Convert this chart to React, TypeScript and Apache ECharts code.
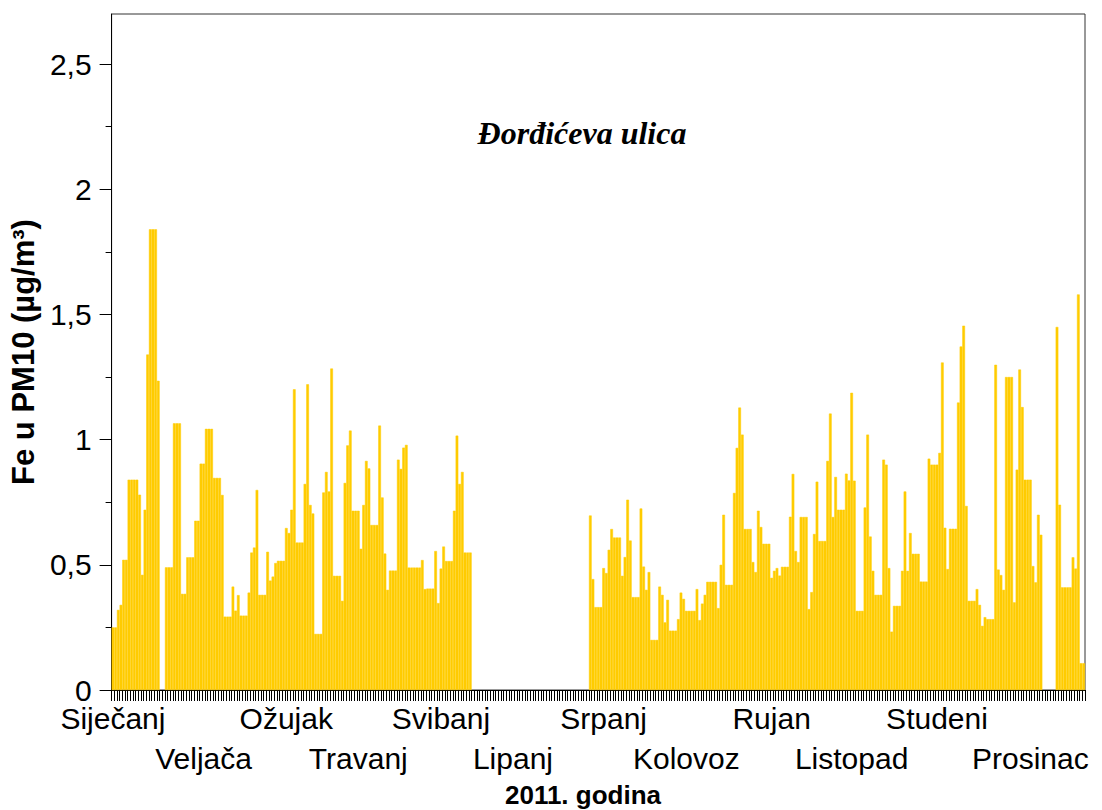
import React, { useEffect, useRef } from "react";
import * as echarts from "echarts";

const monthNames = ["Siječanj", "Veljača", "Ožujak", "Travanj", "Svibanj", "Lipanj", "Srpanj", "Kolovoz", "Rujan", "Listopad", "Studeni", "Prosinac"];
// day (0-based) under which each month name is printed
const monthLabelDay = [0, 34, 65, 92, 123, 150, 184, 215, 247, 277, 309, 344];

const jan = [0.25, 0.25, 0.32, 0.34, 0.52, 0.52, 0.84, 0.84, 0.84, 0.84, 0.78, 0.46, 0.72, 1.34, 1.84, 1.84, 1.84, 1.235, null, null, 0.49, 0.49, 0.49, 1.065, 1.065, 1.065, 0.384, 0.384, 0.53, 0.53, 0.53];
const feb = [0.676, 0.676, 0.904, 0.904, 1.043, 1.043, 1.043, 0.847, 0.847, 0.847, 0.779, 0.293, 0.293, 0.293, 0.413, 0.317, 0.379, 0.297, 0.297, 0.297, 0.389, 0.549, 0.569, 0.799, 0.38, 0.38, 0.38, 0.552];
const mar = [0.437, 0.453, 0.507, 0.516, 0.516, 0.516, 0.647, 0.627, 0.72, 1.201, 0.589, 0.589, 0.589, 0.823, 1.221, 0.739, 0.705, 0.224, 0.224, 0.224, 0.789, 0.871, 0.793, 1.284, 0.456, 0.456, 0.456, 0.356, 0.827, 0.977, 1.036];
const apr = [0.716, 0.716, 0.716, 0.564, 0.739, 0.915, 0.885, 0.659, 0.659, 0.659, 1.056, 0.769, 0.545, 0.4, 0.477, 0.477, 0.477, 0.92, 0.883, 0.968, 0.979, 0.489, 0.489, 0.489, 0.489, 0.489, 0.519, 0.403, 0.405, 0.405];
const may = [0.405, 0.555, 0.347, 0.485, 0.573, 0.515, 0.515, 0.515, 0.716, 1.016, 0.823, 0.871, 0.549, 0.549, 0.549, null, null, null, null, null, null, null, null, null, null, null, null, null, null, null, null];
const jun = [null, null, null, null, null, null, null, null, null, null, null, null, null, null, null, null, null, null, null, null, null, null, null, null, null, null, null, null, 0.697, 0.443];
const jul = [0.331, 0.331, 0.331, 0.487, 0.467, 0.56, 0.643, 0.609, 0.609, 0.609, 0.456, 0.531, 0.76, 0.597, 0.371, 0.371, 0.371, 0.725, 0.493, 0.4, 0.471, 0.2, 0.2, 0.2, 0.413, 0.38, 0.27, 0.36, 0.237, 0.237, 0.237];
const aug = [0.283, 0.389, 0.364, 0.316, 0.316, 0.316, 0.316, 0.403, 0.279, 0.345, 0.38, 0.432, 0.432, 0.432, 0.432, 0.327, 0.5, 0.7, 0.42, 0.42, 0.42, 0.787, 0.967, 1.128, 1.02, 0.643, 0.643, 0.643, 0.511, 0.471, 0.716];
const sep = [0.651, 0.584, 0.584, 0.584, 0.448, 0.476, 0.487, 0.457, 0.492, 0.492, 0.492, 0.692, 0.863, 0.555, 0.511, 0.691, 0.691, 0.691, 0.323, 0.391, 0.623, 0.832, 0.595, 0.595, 0.595, 0.915, 1.104, 0.691, 0.851, 0.72];
const oct = [0.72, 0.72, 0.864, 0.837, 1.187, 0.836, 0.316, 0.316, 0.316, 0.729, 1.02, 0.613, 0.476, 0.38, 0.38, 0.38, 0.92, 0.9, 0.487, 0.233, 0.336, 0.336, 0.336, 0.476, 0.793, 0.476, 0.627, 0.544, 0.544, 0.544, 0.433];
const nov = [0.433, 0.433, 0.924, 0.9, 0.9, 0.9, 0.947, 1.308, 0.648, 0.483, 0.644, 0.644, 0.644, 1.148, 1.372, 1.455, 0.735, 0.356, 0.356, 0.356, 0.403, 0.34, 0.256, 0.291, 0.283, 0.283, 0.283, 1.299, 0.481, 0.459];
const dec = [0.4, 1.25, 1.25, 1.25, 0.35, 0.88, 1.28, 1.13, 0.84, 0.84, 0.84, 0.495, 0.43, 0.7, 0.62, null, null, null, null, null, 1.45, 0.74, 0.41, 0.41, 0.41, 0.41, 0.53, 0.485, 1.58, 0.107, 0.107];

const yMajorTicks = [0, 0.5, 1, 1.5, 2, 2.5];
const yMinorTicks = [0.25, 0.75, 1.25, 1.75, 2.25];

const titleText = "Đorđićeva ulica";
const xName = "2011. godina";
const yName = "Fe u PM10 (µg/m³)";

const SANS = '"Liberation Sans", Arial, sans-serif';
const SERIF = '"Liberation Serif", "Times New Roman", serif';

export default function App() {
  const ref = useRef<HTMLDivElement>(null);

  useEffect(() => {
    if (!ref.current) return;
    const chart = echarts.init(ref.current, undefined, { renderer: "svg" });
    const values = [...jan, ...feb, ...mar, ...apr, ...may, ...jun, ...jul, ...aug, ...sep, ...oct, ...nov, ...dec];
    const days = values.map((_, i) => String(i + 1));

    // month labels are printed in two staggered rows
    const rowLabel = (row: number) => ({
      interval: (index: number) => {
        const m = monthLabelDay.indexOf(index);
        return m >= 0 && m % 2 === row;
      },
      formatter: (_v: string, index: number) => {
        const m = monthLabelDay.indexOf(index);
        return m >= 0 && m % 2 === row ? monthNames[m] : "";
      },
      showMinLabel: null,
      showMaxLabel: null,
      hideOverlap: false,
      fontSize: 30,
      lineHeight: 30,
      margin: 13,
      color: "#000",
      fontFamily: SANS,
    });

    chart.setOption({
      animation: false,
      backgroundColor: "#ffffff",
      grid: {
        left: 111,
        right: 17,
        top: 14,
        bottom: 120,
        show: true,
        borderColor: "#333",
        borderWidth: 1,
        backgroundColor: "transparent",
      },
      xAxis: [
        {
          type: "category",
          data: days,
          boundaryGap: true,
          axisLine: { show: true, lineStyle: { color: "#000", width: 1 } },
          axisTick: { show: true, interval: 0, length: 11, lineStyle: { color: "#000", width: 1 } },
          axisLabel: rowLabel(0),
          splitLine: { show: false },
        },
        {
          type: "category",
          data: days,
          position: "bottom",
          offset: 40,
          boundaryGap: true,
          axisLine: { show: false },
          axisTick: { show: false },
          axisLabel: rowLabel(1),
          splitLine: { show: false },
        },
      ],
      yAxis: [
        {
          type: "value",
          min: 0,
          max: 2.7,
          interval: 0.5,
          name: yName,
          nameLocation: "middle",
          nameGap: 68,
          nameTextStyle: { fontSize: 31, fontWeight: "bold", color: "#000", fontFamily: SANS },
          axisLine: { show: true, lineStyle: { color: "#000", width: 1 } },
          axisTick: { show: true, length: 12, customValues: yMajorTicks, lineStyle: { color: "#000" } },
          axisLabel: {
            customValues: yMajorTicks,
            formatter: (v: number) => String(v).replace(".", ","),
            fontSize: 30,
            lineHeight: 20,
            margin: 20,
            color: "#000",
            fontFamily: SANS,
          },
          splitLine: { show: false },
        },
        {
          type: "value",
          min: 0,
          max: 2.7,
          interval: 0.25,
          position: "left",
          axisLine: { show: false },
          axisLabel: { show: false },
          axisTick: { show: true, length: 6, customValues: yMinorTicks, lineStyle: { color: "#000" } },
          splitLine: { show: false },
        },
      ],
      series: [
        {
          type: "bar",
          xAxisIndex: 0,
          yAxisIndex: 0,
          data: values,
          barCategoryGap: "0%",
          itemStyle: { color: "#FFCC00", borderColor: "#FFCC00", borderWidth: 0.5 },
          emphasis: { disabled: true },
        },
      ],
      graphic: [
        {
          type: "text",
          x: 582,
          y: 133,
          style: {
            text: titleText,
            align: "center",
            verticalAlign: "middle",
            fontSize: 32,
            fontStyle: "italic",
            fontWeight: "bold",
            fontFamily: SERIF,
            fill: "#000",
          },
        },
        {
          type: "text",
          x: 583,
          y: 795,
          style: {
            text: xName,
            align: "center",
            verticalAlign: "middle",
            fontSize: 26,
            fontWeight: "bold",
            fontFamily: SANS,
            fill: "#000",
          },
        },
      ],
    });

    return () => chart.dispose();
  }, []);

  return (
    <div
      ref={ref}
      style={{ position: "absolute", left: 0, top: 0, width: 1102, height: 810 }}
    />
  );
}
